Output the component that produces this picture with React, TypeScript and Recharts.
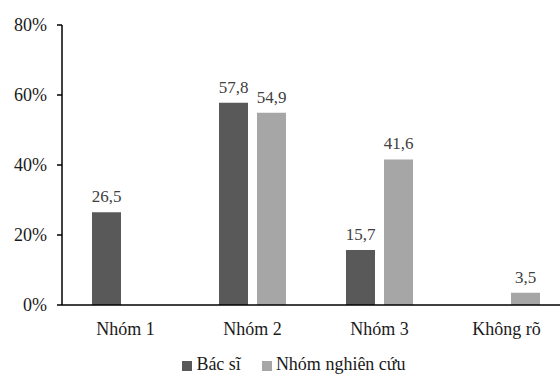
import { BarChart, Bar, XAxis, YAxis, Legend, LabelList } from 'recharts';

const categories = ['Nhóm 1', 'Nhóm 2', 'Nhóm 3', 'Không rõ'];
const bacSi = [26.5, 57.8, 15.7, null];
const nhomNghienCuu = [null, 54.9, 41.6, 3.5];
const yTicks = [0, 20, 40, 60, 80];

const data = categories.map((name, i) => ({
  name,
  bacSi: bacSi[i],
  nhom: nhomNghienCuu[i],
}));

const font = '"Liberation Serif", "Times New Roman", serif';
const fmt = (v: unknown) => (v == null ? '' : String(v).replace('.', ','));

export default function App() {
  return (
    <div className="chart-box" style={{ position: 'fixed', left: 0, top: 0, width: 560, height: 374, overflow: 'hidden', background: '#fff' }}>
      <style>{`.chart-box, .chart-box * { font-family: ${font} !important; }`}</style>
      <BarChart
        width={580}
        height={374}
        data={data}
        margin={{ top: 25, right: 10, left: 0, bottom: 0 }}
        barSize={29}
        barGap={9}
      >
        <YAxis
          width={62}
          domain={[0, 80]}
          ticks={yTicks}
          tickFormatter={(v: number) => `${v}%`}
          tick={{ fontSize: 18, fill: '#1a1a1a' }}
          axisLine={{ stroke: '#000', strokeWidth: 1.5 }}
          tickLine={{ stroke: '#000', strokeWidth: 1.5 }}
          tickSize={5}
          tickMargin={10}
        />
        <XAxis
          dataKey="name"
          height={49}
          tick={{ fontSize: 18, fill: '#1a1a1a' }}
          axisLine={{ stroke: '#000', strokeWidth: 1.5 }}
          tickLine={false}
          tickSize={6}
          tickMargin={11}
        />
        <Legend
          iconType="square"
          iconSize={10}
          wrapperStyle={{ fontSize: 18, lineHeight: '20px', color: '#1a1a1a', left: 14, bottom: 0 }}
          formatter={(value: string, _entry: unknown, index: number) => (
            <span style={{ color: '#1a1a1a', marginRight: index === 0 ? 11 : 0 }}>{value}</span>
          )}
        />
        <Bar dataKey="bacSi" name="Bác sĩ" fill="#595959" isAnimationActive={false}>
          <LabelList dataKey="bacSi" position="top" offset={10} formatter={fmt} style={{ fontSize: 17, fill: '#404040' }} />
        </Bar>
        <Bar dataKey="nhom" name="Nhóm nghiên cứu" fill="#a6a6a6" isAnimationActive={false}>
          <LabelList dataKey="nhom" position="top" offset={10} formatter={fmt} style={{ fontSize: 17, fill: '#404040' }} />
        </Bar>
      </BarChart>
    </div>
  );
}
